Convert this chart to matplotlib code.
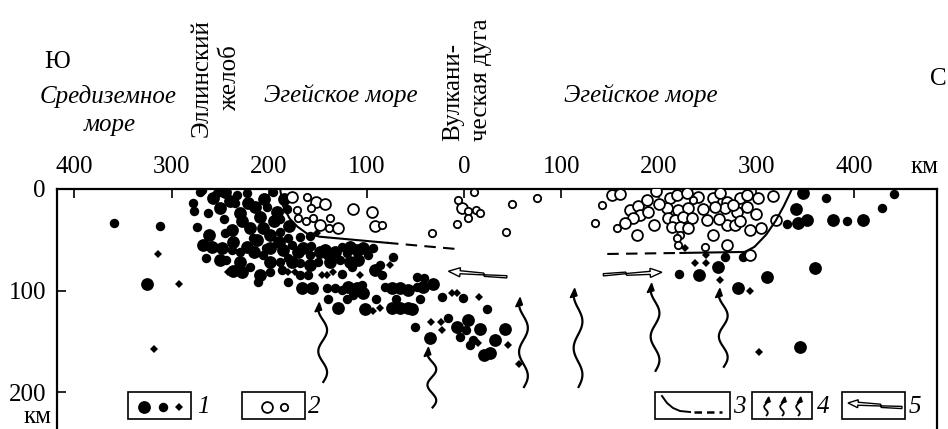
import numpy as np
import matplotlib.pyplot as plt
from matplotlib.patches import Rectangle, Polygon

plt.rcParams['font.family'] = ['Liberation Serif', 'DejaVu Serif']
plt.rcParams['font.size'] = 18

# distance along the profile in km (south = negative), depth in km
# filled circles (earthquakes), three magnitude classes
big = [(-325, 94), (-245, 3), (-258, 9), (-250, 19), (-230, 24), (-214, 18), (-209, 28), (-192, 23),
       (-228, 32), (-220, 38), (-206, 38), (-199, 45), (-199, 58), (-186, 60), (-165, 58), (-148, 62),
       (-199, 72), (-223, 57), (-237, 52), (-268, 55), (-259, 57), (-248, 58), (-237, 81), (-228, 82),
       (-209, 85), (-166, 98), (-156, 98), (-143, 60), (-132, 62), (-117, 57), (-110, 60), (-104, 58),
       (-137, 72), (-117, 72), (-109, 70), (-91, 80), (-119, 97), (-110, 98), (-104, 102), (-74, 98),
       (-66, 98), (-57, 99), (-42, 97), (-32, 94), (-129, 117), (-102, 118), (-74, 117), (-66, 117),
       (-57, 117), (-53, 118), (-7, 136), (4, 129), (-35, 147), (16, 138), (20, 164), (27, 162),
       (32, 149), (42, 138),
       (-240, 12), (-222, 14), (-205, 10), (-185, 10), (-238, 40), (-212, 50), (-195, 32), (-180, 36),
       (-170, 62), (-190, 52), (-176, 72), (-158, 75), (-250, 70), (-262, 45), (-215, 62), (-230, 72),
       (348, 4), (341, 20), (343, 33), (352, 31), (379, 31), (409, 31), (360, 78), (311, 87),
       (281, 98), (345, 156), (261, 77), (241, 85)]
mid = [(-359, 33), (-312, 36), (-274, 37), (-278, 14), (-277, 22), (-269, 1), (-271, 3), (-253, 4),
       (-233, 6), (-223, 4), (-196, 3), (-235, 14), (-202, 18), (-189, 30), (-216, 48), (-189, 42),
       (-181, 48), (-176, 55), (-158, 65), (-141, 65), (-206, 65), (-189, 72), (-181, 68), (-168, 73),
       (-245, 43), (-238, 60), (-230, 62), (-220, 77), (-199, 82), (-187, 80), (-168, 85), (-211, 92),
       (-181, 92), (-141, 98), (-125, 57), (-93, 58), (-127, 70), (-115, 77), (-73, 67), (-86, 75),
       (-84, 85), (-125, 84), (-132, 98), (-125, 99), (-105, 95), (-114, 104), (-81, 97), (-48, 97),
       (-48, 87), (-41, 88), (-23, 106), (-1, 107), (24, 118), (-50, 136), (-16, 127), (-4, 146),
       (9, 149), (2, 139), (6, 154), (-168, 47), (-158, 46),
       (-263, 24), (-246, 30), (-203, 58), (-157, 56), (-150, 72), (-182, 20), (-265, 68), (-244, 70),
       (-120, 63), (-98, 65), (-160, 85), (-90, 108), (-120, 108), (-140, 108), (-70, 108), (-45, 108),
       (371, 9), (441, 5), (331, 34), (393, 32), (429, 19), (268, 67), (286, 67), (221, 84)]
small = [(-314, 64), (-292, 94), (-318, 158), (-242, 82), (-181, 82), (-173, 82), (-146, 85), (-141, 85),
         (-76, 75), (-134, 82), (-107, 85), (-12, 102), (-7, 102), (15, 106), (-93, 120), (-86, 117),
         (-34, 131), (-24, 131), (-23, 139), (14, 152), (45, 154), (56, 172), (-151, 43),
         (293, 100), (303, 161), (227, 58), (248, 65), (237, 73), (248, 73), (263, 90)]

# open circles
open_big = [(-176, 8), (-152, 13), (-143, 15), (-148, 35), (-129, 38), (-114, 20), (-94, 23), (-91, 36),
            (-2, 19), (170, 21), (179, 17), (211, 9), (208, 19), (220, 21), (249, 31), (255, 9),
            (270, 13), (268, 19), (283, 9), (280, 23), (270, 55), (293, 65), (302, 9), (317, 7), (320, 31),
            (152, 6), (160, 5), (181, 26), (188, 11), (189, 23), (173, 29), (165, 33), (177, 45),
            (219, 6), (229, 4), (230, 19), (209, 29), (216, 31), (225, 28), (234, 29), (213, 37),
            (222, 37), (230, 38), (263, 4), (258, 18), (276, 16), (290, 6), (290, 18), (270, 35),
            (278, 35), (283, 32), (293, 40),
            (200, 15), (195, 35), (245, 20), (240, 8), (300, 25), (305, 38), (262, 30), (255, 45), (197, 2)]
open_small = [(-161, 8), (-157, 19), (-171, 21), (-170, 29), (-162, 32), (-155, 29), (-137, 29), (-139, 38),
              (-84, 35), (-33, 43), (-6, 11), (4, 22), (12, 21), (4, 29), (-7, 34), (10, 3), (16, 24),
              (49, 15), (75, 9), (43, 42), (134, 33), (142, 16), (157, 38), (222, 45), (219, 48),
              (247, 57), (220, 55), (235, 11)]

# boundary lines (3)
left_solid = [(-189, -2), (-186, 16), (-179, 29), (-171, 37), (-161, 44), (-148, 47), (-79, 53)]
left_dash = [(-79, 53), (-9, 59)]
right_dash = [(147, 64), (222, 63)]
right_solid = [(222, 63), (288, 62), (298, 57), (310, 45), (320, 31), (328, 17), (336, 1)]

# wavy arrows (4): x, bottom depth, top depth
fluid = [(-145, 191, 112), (-33, 216, 156), (61, 196, 107), (117, 196, 98), (196, 180, 93), (266, 176, 98)]
# hollow arrows (5): tip, tail
flow = [((-16, 81), (44, 86)), ((203, 82), (143, 85))]

tick_km = [-400, -300, -200, -100, 0, 100, 200, 300, 400]
tick_lab = ['400', '300', '200', '100', '0', '100', '200', '300', '400']
depth_ticks = [0, 100, 200]


def wavy_arrow(ax, x, y0, y1, amp=4.5, waves=1.75, lw=1.6, head=9.0, hw=3.5):
    t = np.linspace(0, 1, 80)
    yy = y0 + (y1 + head * 0.7 - y0) * t
    xx = x + amp * np.sin(2 * np.pi * waves * t)
    ax.plot(xx, yy, color='k', lw=lw, solid_capstyle='butt', zorder=4)
    bx = xx[-1]
    ax.add_patch(Polygon([(bx - hw, y1 + head), (bx + 1, y1), (bx + hw, y1 + head * 0.8)],
                         closed=True, color='k', zorder=4))


def hollow_arrow(ax, tip, tail, hl=12, hw=4.5):
    tip = np.array(tip, float)
    tail = np.array(tail, float)
    u = tail - tip
    L = np.hypot(*u)
    u = u / L
    v = np.array([-u[1], u[0]])
    shape = [(0, 0), (hl, -hw), (hl, -1.5), (L * 0.6, -1.2), (L * 0.62, 0.4), (L, -0.6),
             (L, 1.6), (L * 0.62, 2.0), (L * 0.6, 0.6), (hl, 1.5), (hl, hw)]
    pts = [tip + a * u + b * v for a, b in shape]
    ax.add_patch(Polygon(pts, closed=True, fc='white', ec='k', lw=1.0, zorder=4))


fig = plt.figure(figsize=(9.48, 4.29), dpi=100)
ax = fig.add_axes([57 / 948, 0, 880 / 948, 240 / 429])
ax.set_xlim(-417.6, 485.3)
ax.set_ylim(236.4, 0)

for pts, ms, mk in [(big, 9.2, 'o'), (mid, 6.8, 'o'), (small, 3.8, 'D')]:
    a = np.array(pts)
    ax.plot(a[:, 0], a[:, 1], mk, color='k', ms=ms, mew=0, zorder=2)
for pts, ms in [(open_big, 7.8), (open_small, 5.3)]:
    a = np.array(pts)
    ax.plot(a[:, 0], a[:, 1], 'o', mfc='white', mec='k', ms=ms, mew=1.3, zorder=3)

for seg, ls in [(left_solid, '-'), (left_dash, (0, (5.5, 3.5))), (right_dash, (0, (5.5, 3.5))),
                (right_solid, '-')]:
    a = np.array(seg)
    ax.plot(a[:, 0], a[:, 1], color='k', lw=1.5, ls=ls, zorder=3)

for x, y0, y1 in fluid:
    wavy_arrow(ax, x, y0, y1)
for tip, tail in flow:
    hollow_arrow(ax, tip, tail)

ax.xaxis.set_ticks_position('top')
ax.set_xticks(tick_km)
ax.set_xticklabels(tick_lab)
ax.set_yticks(depth_ticks)
ax.tick_params(axis='x', direction='in', length=6.5, width=1.2, pad=8, labelsize=18)
ax.tick_params(axis='y', direction='in', length=6.5, width=1.2, pad=8, labelsize=18)
ax.spines['bottom'].set_visible(False)
for s in ['top', 'left', 'right']:
    ax.spines[s].set_linewidth(1.6)

# overlay in pixel units for labels and legend
ov = fig.add_axes([0, 0, 1, 1], facecolor='none')
ov.set_xlim(0, 948)
ov.set_ylim(429, 0)
ov.axis('off')

it = dict(style='italic', ha='center', va='center', fontsize=18)
ov.text(57, 62, 'Ю', ha='center', va='center')
ov.text(108, 96, 'Средиземное', **it)
ov.text(110, 125, 'море', **it)
ov.text(216, 78, 'Эллинский\nжелоб', rotation=90, ha='center', va='center', multialignment='center',
        linespacing=1.35)
ov.text(467, 141, 'Вулкани-\nческая дуга', rotation=90, ha='center', va='bottom', multialignment='left',
        linespacing=1.3)
ov.text(341, 96, 'Эгейское море', **it)
ov.text(641, 96, 'Эгейское море', **it)
ov.text(938, 79, 'С', ha='center', va='center')
ov.text(925, 167, 'км', ha='center', va='center')
ov.text(38, 417, 'км', ha='center', va='center')

# legend boxes
for x0, x1 in [(128, 191), (242, 305), (655, 730), (752, 812), (842, 905)]:
    ov.add_patch(Rectangle((x0, 392), x1 - x0, 27, fill=False, ec='k', lw=1.2))
for s, x in [('1', 203), ('2', 314), ('3', 739), ('4', 823), ('5', 915)]:
    ov.text(x, 407, s, **it)
ov.plot([144], [407], 'o', color='k', ms=9.2, mew=0)
ov.plot([163], [407], 'o', color='k', ms=6.8, mew=0)
ov.plot([179], [407], 'D', color='k', ms=3.8, mew=0)
ov.plot([267], [407], 'o', mfc='white', mec='k', ms=7.8, mew=1.3)
ov.plot([284], [407], 'o', mfc='white', mec='k', ms=5.3, mew=1.3)
ov.plot([662, 667, 673, 680, 690], [396, 403, 408, 411, 412], color='k', lw=1.4)
ov.plot([694, 722], [412, 412], color='k', lw=1.8, ls=(0, (3, 2)))
for x in [766, 782, 798]:
    wavy_arrow(ov, x, 416, 397, amp=1.8, waves=1.2, lw=1.3, head=6, hw=2.5)
hollow_arrow(ov, (848, 403), (902, 407), hl=10, hw=4)

fig.savefig('out.png', dpi=100)
